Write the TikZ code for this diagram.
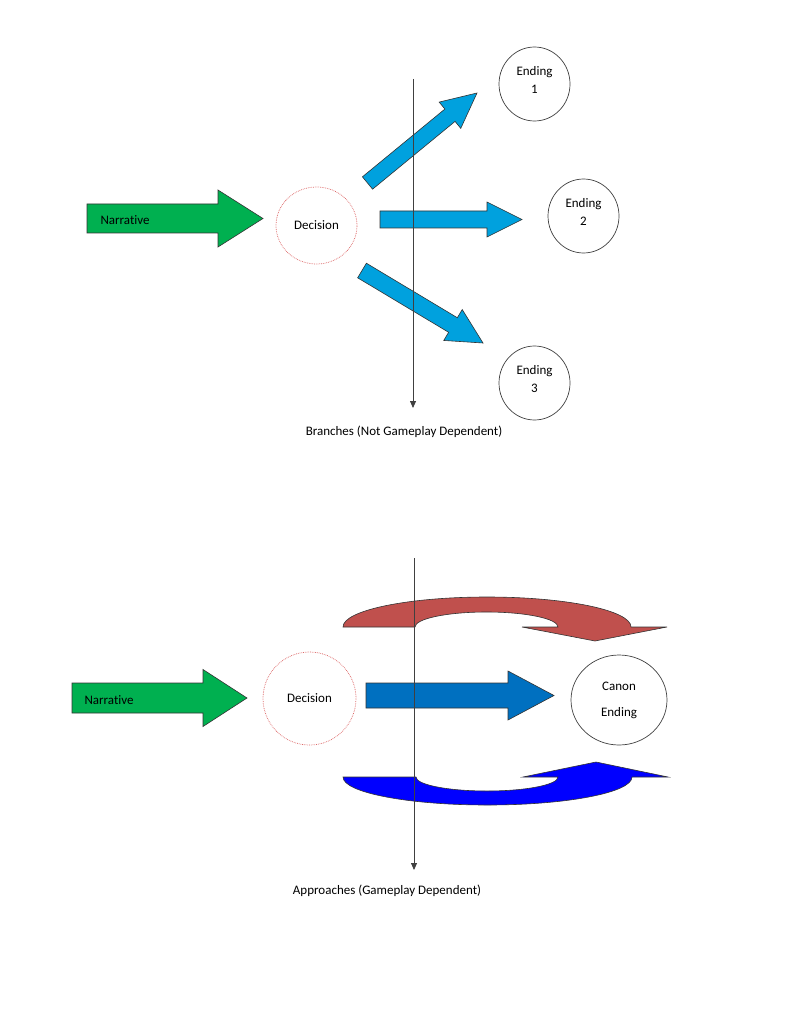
\documentclass[tikz,border=0pt]{standalone}
\usepackage{fontspec}
\setmainfont{Carlito}[Ligatures=NoCommon]
\usetikzlibrary{calc,arrows.meta,shapes.geometric}
\definecolor{narrative-green}{HTML}{00B050}
\definecolor{branch-blue}{HTML}{00A1DE}
\definecolor{approach-blue}{HTML}{0070C0}
\definecolor{approach-red}{HTML}{C0504D}
\definecolor{approach-navy}{HTML}{0000FF}
\definecolor{decision-red}{HTML}{DD6A6A}
\definecolor{axis-gray}{HTML}{404040}

% block arrow: style, tail, tip, half shaft, half head, head length
\newcommand{\blockarrow}[6]{%
  \filldraw[#1] ($(#2)!#4!90:(#3)$)
    -- ($(#3)!#6!(#2)!#4!90:(#3)$)
    -- ($(#3)!#6!(#2)!#5!90:(#3)$)
    -- (#3)
    -- ($(#3)!#6!(#2)!#5!-90:(#3)$)
    -- ($(#3)!#6!(#2)!#4!-90:(#3)$)
    -- ($(#2)!#4!-90:(#3)$) -- cycle;}

\begin{document}
\begin{tikzpicture}[x=1pt, y=-1pt,
        every node/.style={font=\fontsize{13}{15}\selectfont},
        decision/.style={ellipse, draw=decision-red, densely dotted,
          line width=0.75pt, inner sep=0pt},
        ending/.style={ellipse, draw=black!75, line width=0.7pt, inner sep=0pt,
          align=center, font=\fontsize{13}{18}\selectfont},
        fat/.style={draw=black!80, line width=0.6pt, line join=miter},
        cut/.style={axis-gray, line width=0.8pt, -{Triangle[width=6pt,length=7pt]}}]
      \useasboundingbox (0,0) rectangle (791,1024);

      \coordinate (n1tail) at (87,218.5);
      \coordinate (n1tip) at (263,218.5);
      \blockarrow{fat, fill=narrative-green}{n1tail}{n1tip}{14.5pt}{28.5pt}{45pt}
      \node[anchor=west] (narr1) at (97,220) {Narrative};
      \node[decision, minimum width=81pt, minimum height=77pt] (dec1) at (316.5,225.5) {Decision};

      \coordinate (b1tail) at (367.5,183);
      \coordinate (b1tip) at (477,93);
      \coordinate (b2tail) at (380,219.5);
      \coordinate (b2tip) at (522,219.5);
      \coordinate (b3tail) at (362,270.5);
      \coordinate (b3tip) at (483,343);
      \blockarrow{fat, fill=branch-blue}{b1tail}{b1tip}{8pt}{17pt}{35pt}
      \blockarrow{fat, fill=branch-blue}{b2tail}{b2tip}{8.5pt}{17.5pt}{35pt}
      \blockarrow{fat, fill=branch-blue}{b3tail}{b3tip}{8.5pt}{18pt}{35pt}

      \node[ending, minimum width=71pt, minimum height=74pt] (end1) at (534.5,84) {Ending\\1\\[-10pt]};
      \node[ending, minimum width=71pt, minimum height=74pt] (end2) at (583.5,216) {Ending\\2\\[-10pt]};
      \node[ending, minimum width=71pt, minimum height=74pt] (end3) at (534.5,383) {Ending\\3\\[-10pt]};

      \coordinate (cut1top) at (413,79);
      \coordinate (cut1end) at (413,408);
      \draw[cut] (cut1top) -- (cut1end);
      \node (branches) at (404,432) {Branches (Not Gameplay Dependent)};

      \coordinate (n2tail) at (72,698);
      \coordinate (n2tip) at (247,698);
      \blockarrow{fat, fill=narrative-green}{n2tail}{n2tip}{15pt}{28.5pt}{44pt}
      \node[anchor=west] (narr2) at (81,700) {Narrative};
      \node[decision, minimum size=93pt] (dec2) at (309.5,698.5) {Decision};

      \coordinate (a1tail) at (366,695.5);
      \coordinate (a1tip) at (554,695.5);
      \blockarrow{fat, fill=approach-blue}{a1tail}{a1tip}{12.5pt}{24.5pt}{46pt}
      \node[ending, minimum width=96pt, minimum height=90pt,
        font=\fontsize{13}{26}\selectfont] (canon) at (619,700) {Canon\\Ending};

      \filldraw[fat, fill=approach-red] (343,627)
        arc[start angle=180, end angle=360, x radius=144, y radius=30]
        -- (667,627) -- (595,641) -- (522,627) -- (558,627)
        arc[start angle=0, end angle=-180, x radius=71.5, y radius=15] -- cycle;
      \filldraw[fat, fill=approach-navy] (343,777) -- (416,777)
        arc[start angle=180, end angle=0, x radius=71, y radius=14]
        -- (523,777) -- (596,762) -- (668,777) -- (632,777)
        arc[start angle=0, end angle=180, x radius=144.5, y radius=28] -- cycle;

      \coordinate (cut2top) at (414,558);
      \coordinate (cut2end) at (414,870);
      \draw[cut] (cut2top) -- (cut2end);
      \node (approaches) at (387,891) {Approaches (Gameplay Dependent)};
    \end{tikzpicture}
\end{document}
